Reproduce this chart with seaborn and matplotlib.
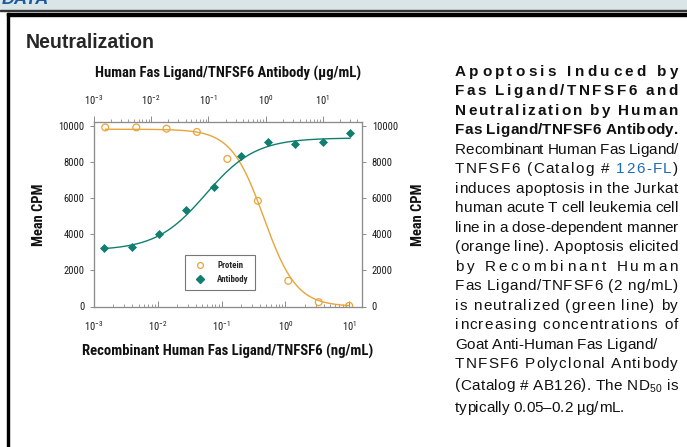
import numpy as np
import matplotlib
matplotlib.use("Agg")
import matplotlib.pyplot as plt
import seaborn as sns
from matplotlib import font_manager as fm
from matplotlib.lines import Line2D
from matplotlib.patches import Rectangle
from matplotlib.font_manager import FontProperties, findfont, get_font

# DATA
protein_ng = [0.0015, 0.0046, 0.0137, 0.041, 0.123, 0.37, 1.11, 3.33, 10.0]
protein_cpm = [9900, 9900, 9830, 9650, 8160, 5840, 1420, 240, 40]
antibody_ug = [0.0015, 0.0046, 0.0137, 0.041, 0.123, 0.37, 1.11, 3.33, 10.0, 30.0]
antibody_cpm = [3220, 3300, 4020, 5320, 6630, 8330, 9120, 9000, 9080, 9610]

# 4PL fit parameters
protein_fit = {"bottom": 0, "top": 9800, "ec50": 0.46, "hill": 1.7}
antibody_fit = {"bottom": 3100, "top": 9320, "ec50": 0.09, "hill": -1.0}

y_ticks = [0, 2000, 4000, 6000, 8000, 10000]
x_ticks = [1e-3, 1e-2, 1e-1, 1e0, 1e1]

ORANGE = "#E8A53A"
GREEN = "#117F70"
W, H = 687, 447


def pick_narrow():
    fonts = fm.fontManager.ttflist
    for name in ["Liberation Sans Narrow", "Roboto Condensed", "Open Sans Condensed",
                 "Noto Sans Condensed", "DejaVu Sans Condensed"]:
        if any(f.name == name for f in fonts):
            return {"family": name, "stretch": "normal"}
    for name in ["Noto Sans", "Open Sans", "Roboto", "DejaVu Sans"]:
        if any(f.name == name and "condensed" in str(f.stretch) for f in fonts):
            return {"family": name, "stretch": "condensed"}
    return {"family": "Liberation Sans", "stretch": "normal"}


NARROW = pick_narrow()

sns.set_style("ticks")
plt.rcParams["font.family"] = [NARROW["family"], "DejaVu Sans"]
plt.rcParams["font.stretch"] = NARROW["stretch"]


def fx(x):
    return x / W


def fy(y):
    return 1 - y / H


def advance(ch, fp):
    font = get_font(findfont(fp))
    font.set_size(fp.get_size_in_points(), 100)
    return font.load_char(ord(ch)).linearHoriAdvance / 65536


def fit(text, px, weight="normal", family=None):
    fp = FontProperties(family=family or NARROW["family"], size=10, weight=weight,
                        stretch=NARROW["stretch"] if family is None else "normal")
    return 10 * px / sum(advance(c, fp) for c in text)


def four_pl(x, p):
    x = np.asarray(x, dtype=float)
    return p["bottom"] + (p["top"] - p["bottom"]) / (1 + (x / p["ec50"]) ** p["hill"])


fig = plt.figure(figsize=(W / 100, H / 100), dpi=100)

# page furniture
fig.patches.append(Rectangle((0, fy(9.3)), 1, 9.3 / H, transform=fig.transFigure,
                             color="#D9E5E7", zorder=0))
fig.patches.append(Rectangle((0, fy(11.4)), 1, 1.8 / H, transform=fig.transFigure,
                             color="#333333", zorder=0))
fig.patches.append(Rectangle((fx(6.5), fy(15.5)), 1, 2.5 / H, transform=fig.transFigure,
                             color="black", zorder=0))
fig.patches.append(Rectangle((fx(6.5), 0), 2.5 / W, fy(13), transform=fig.transFigure,
                             color="black", zorder=0))
fig.text(fx(2), fy(3.5), "DATA", color="#1D5A9E", fontsize=13, fontweight="bold",
         fontstyle="italic", family="Liberation Sans", va="baseline")
fig.text(fx(26), fy(48), "Neutralization", fontweight="bold", family="Liberation Sans",
         fontsize=fit("Neutralization", 129, "bold", "Liberation Sans"), va="baseline")

# CHART
ax = fig.add_axes([94 / W, 1 - 306.5 / H, 268 / W, 184.5 / H])
axt = ax.twiny()
axr = ax.twinx()

px = np.logspace(np.log10(min(protein_ng)), np.log10(max(protein_ng)), 200)
ax_ = np.logspace(np.log10(min(antibody_ug)), np.log10(max(antibody_ug)), 200)

sns.lineplot(x=px, y=four_pl(px, protein_fit), ax=ax, color=ORANGE, lw=1)
sns.scatterplot(x=protein_ng, y=protein_cpm, ax=ax, marker="o", s=24,
                facecolor="none", edgecolor=ORANGE, linewidth=0.9, zorder=3)
sns.lineplot(x=ax_, y=four_pl(ax_, antibody_fit), ax=axt, color=GREEN, lw=1)
sns.scatterplot(x=antibody_ug, y=antibody_cpm, ax=axt, marker="D", s=16,
                color=GREEN, edgecolor=GREEN, linewidth=0.6, zorder=3)

ax.set_xscale("log")
axt.set_xscale("log")
ax.set_xlim(1e-3, 10 ** (-3 + 268 / 63.8))
axt.set_xlim(1e-3, 10 ** (-3 + 268 / 57.2))
ax.set_ylim(0, 10200)
axr.set_ylim(0, 10200)
ax.set_xticks(x_ticks)
axt.set_xticks(x_ticks)
ax.set_yticks(y_ticks)
axr.set_yticks(y_ticks)

for a in (ax, axt, axr):
    for s in a.spines.values():
        s.set_color("#8C8C8C")
        s.set_linewidth(0.8)

tick_size = fit("10000", 26)
tick_kw = dict(labelsize=tick_size, labelcolor="#1A1A1A", color="#8C8C8C", width=0.7)
ax.tick_params(axis="x", which="major", direction="in", length=4, pad=9, **tick_kw)
ax.tick_params(axis="x", which="minor", direction="in", length=2, color="#8C8C8C", width=0.6)
axt.tick_params(axis="x", which="major", direction="out", length=4, pad=7, **tick_kw)
axt.tick_params(axis="x", which="minor", direction="out", length=2, color="#8C8C8C", width=0.6)
ax.tick_params(axis="y", direction="out", length=3, pad=4, **tick_kw)
axr.tick_params(axis="y", direction="out", length=3, pad=4, **tick_kw)

bottom_label = "Recombinant Human Fas Ligand/TNFSF6 (ng/mL)"
top_label = "Human Fas Ligand/TNFSF6 Antibody (\u00b5g/mL)"
label_kw = dict(fontweight="bold", color="#111111")
ax.set_xlabel(bottom_label, labelpad=8, fontsize=fit(bottom_label, 290, "bold"), **label_kw)
axt.set_xlabel(top_label, labelpad=11, fontsize=fit(top_label, 265, "bold"), **label_kw)
ylab_size = fit("Mean CPM", 62, "bold")
ax.set_ylabel("Mean CPM", fontsize=ylab_size, **label_kw)
axr.set_ylabel("Mean CPM", fontsize=ylab_size, **label_kw)
for a, xc in ((ax, (39 - 94) / 268), (axr, (418 - 94) / 268)):
    a.yaxis.label.set(rotation_mode="default", ha="center", va="center")
    a.yaxis.set_label_coords(xc, 0.5)

handles = [
    Line2D([], [], marker="o", ls="none", mfc="none", mec=ORANGE, ms=4.2, mew=0.9, label="Protein"),
    Line2D([], [], marker="D", ls="none", mfc=GREEN, mec=GREEN, ms=3.6, label="Antibody"),
]
leg_prop = FontProperties(family=NARROW["family"], stretch=NARROW["stretch"],
                          size=fit("Antibody", 32, "bold"), weight="bold")
leg = axr.legend(handles=handles, loc="center", bbox_to_anchor=(0.47, 0.184),
                 prop=leg_prop, frameon=True, fancybox=False, borderpad=0.7,
                 labelspacing=0.5, handlelength=2, handletextpad=0.9)
leg.get_frame().set_edgecolor("#555555")
leg.get_frame().set_linewidth(0.8)

# DESCRIPTION TEXT (justified by hand)
X0, X1 = 455, 678
regular = FontProperties(family="Liberation Sans", size=11)
bold = FontProperties(family="Liberation Sans", size=11, weight="bold")
small = FontProperties(family="Liberation Sans", size=7.5)
styles = {"r": (regular, "#111111", 0), "b": (bold, "#111111", 0),
          "link": (regular, "#1F6BB5", 0), "sub": (small, "#111111", 3)}

desc_lines = [
    ([("Apoptosis Induced by", "b")], True),
    ([("Fas Ligand/TNFSF6 and", "b")], True),
    ([("Neutralization by Human", "b")], True),
    ([("Fas Ligand/TNFSF6 Antibody.", "b")], True),
    ([("Recombinant Human Fas Ligand/", "r")], True),
    ([("TNFSF6 (Catalog # ", "r"), ("126-FL", "link"), (")", "r")], True),
    ([("induces apoptosis in the Jurkat", "r")], True),
    ([("human acute T cell leukemia cell", "r")], True),
    ([("line in a dose-dependent manner", "r")], True),
    ([("(orange line). Apoptosis elicited", "r")], True),
    ([("by Recombinant Human", "r")], True),
    ([("Fas Ligand/TNFSF6 (2 ng/mL)", "r")], True),
    ([("is neutralized (green line) by", "r")], True),
    ([("increasing concentrations of", "r")], True),
    ([("Goat Anti-Human Fas Ligand/", "r")], False),
    ([("TNFSF6 Polyclonal Antibody", "r")], True),
    ([("(Catalog # AB126). The ND", "r"), ("50", "sub"), (" is", "r")], True),
    ([("typically 0.05\u20130.2 \u00b5g/mL.", "r")], False),
]
line_y = [70.7, 90.2, 109.7, 129.2, 148.7, 168.2, 187.7, 207.2, 226.7, 246.2,
          265.7, 285.2, 304.7, 324.2, 343.7, 363.2, 384.5, 407.0]

for (runs, justify), yc in zip(desc_lines, line_y):
    chars = []
    for text, kind in runs:
        fp, col, dy = styles[kind]
        for ch in text:
            chars.append((ch, fp, col, dy, advance(ch, fp)))
    natural = sum(c[4] for c in chars)
    gap = (X1 - X0 - natural) / (len(chars) - 1) if justify else 0
    x = X0
    for ch, fp, col, dy, adv in chars:
        if ch != " ":
            fig.text(fx(x), fy(yc + 5 + dy), ch, fontproperties=fp, color=col,
                     ha="left", va="baseline")
        x += adv + gap

fig.savefig("out.png", dpi=100)
